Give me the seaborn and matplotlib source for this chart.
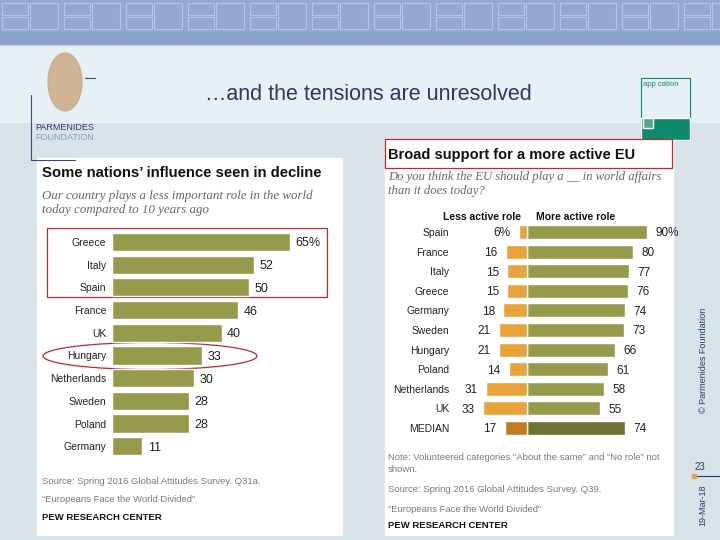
import matplotlib
matplotlib.use("Agg")
import matplotlib.pyplot as plt
import seaborn as sns
import pandas as pd
from matplotlib.patches import Rectangle, Ellipse

sns.set_theme(style="white")
plt.rcParams['font.family'] = ['Liberation Sans', 'DejaVu Sans']

# ---- data ----
left_countries = ["Greece", "Italy", "Spain", "France", "UK", "Hungary",
                  "Netherlands", "Sweden", "Poland", "Germany"]
left_values = [65, 52, 50, 46, 40, 33, 30, 28, 28, 11]
left_labels = ["65%", "52", "50", "46", "40", "33", "30", "28", "28", "11"]

right_countries = ["Spain", "France", "Italy", "Greece", "Germany", "Sweden",
                   "Hungary", "Poland", "Netherlands", "UK", "MEDIAN"]
less_active = [6, 16, 15, 15, 18, 21, 21, 14, 31, 33, 17]
more_active = [90, 80, 77, 76, 74, 73, 66, 61, 58, 55, 74]
less_labels = ["6%", "16", "15", "15", "18", "21", "21", "14", "31", "33", "17"]
more_labels = ["90%", "80", "77", "76", "74", "73", "66", "61", "58", "55", "74"]

OLIVE = "#959B4B"
OLIVE_D = "#6E7232"
ORANGE = "#E9A33B"
ORANGE_D = "#C47B1F"
GRAY = "#7a7a7a"

W, H = 720, 540
fig = plt.figure(figsize=(7.2, 5.4), dpi=100)

# background axes in pixel coords
bg = fig.add_axes([0, 0, 1, 1])
bg.set_xlim(0, W)
bg.set_ylim(H, 0)
bg.axis("off")
bg.add_patch(Rectangle((0, 0), W, H, color="#D7E2E9", zorder=0))
bg.add_patch(Rectangle((0, 42), W, 80, color="#E7EFF7", zorder=0))
bg.add_patch(Rectangle((0, 0), W, 44, color="#93A9D1", zorder=0))
bg.add_patch(Rectangle((0, 32), W, 12, color="#8AA1CB", zorder=1))
# decorative pattern
for i in range(0, W, 62):
    bg.add_patch(Rectangle((i + 2, 3), 26, 12, fill=False, ec="#B6C6E3", lw=0.8, zorder=1))
    bg.add_patch(Rectangle((i + 30, 3), 28, 26, fill=False, ec="#B6C6E3", lw=0.8, zorder=1))
    bg.add_patch(Rectangle((i + 2, 17), 26, 12, fill=False, ec="#B6C6E3", lw=0.8, zorder=1))

# logo-ish elements
bg.add_patch(Ellipse((65, 82), 34, 58, color="#C9A77E", zorder=1, alpha=0.8))
bg.plot([31, 31], [95, 160], color="#3B4A7A", lw=0.8)
bg.plot([31, 75], [160, 160], color="#3B4A7A", lw=0.8)
bg.plot([85, 95], [78, 78], color="#3B4A7A", lw=0.8)
bg.text(35, 128, "PARMENIDES", fontsize=6.5, color="#2B3A6A", va="center")
bg.text(35, 137, "FOUNDATION", fontsize=6.5, color="#8C9BC4", va="center")

bg.text(368, 95, "\u2026and the tensions are unresolved", fontsize=15.5,
        color="#2E3A5A", ha="center", va="center")

# app box top right
bg.add_patch(Rectangle((641, 78), 49, 62, fc="#E7EFF7", ec="#0E8A6E", lw=0.8, zorder=2))
bg.add_patch(Rectangle((641, 118), 49, 22, fc="#0E8A6E", zorder=3))
bg.add_patch(Rectangle((643, 118), 10, 10, fc="#4FA58A", zorder=4))
bg.text(643, 85, "app cation", fontsize=5.5, color="#0E8A6E", va="center")

# side texts
bg.text(703, 360, "\u00a9 Parmenides Foundation", rotation=90, fontsize=6.5,
        color="#2B3A6A", ha="center", va="center")
bg.text(700, 467, "23", fontsize=7, color="#2B3A6A", ha="center", va="center")
bg.plot([693, 720], [476, 476], color="#2B3A6A", lw=0.8)
bg.plot([694], [476], marker="s", color="#E9A33B", ms=3)
bg.text(703, 505, "19-Mar-18", rotation=90, fontsize=6.5,
        color="#2B3A6A", ha="center", va="center")

# white panels
bg.add_patch(Rectangle((37, 158), 305, 377, color="white", zorder=1))
bg.add_patch(Rectangle((385, 140), 288, 395, color="white", zorder=1))

# left panel texts
bg.text(42, 173, "Some nations\u2019 influence seen in decline", fontsize=10.7,
        fontweight="bold", color="#111111", va="center", zorder=3)
bg.text(42, 196, "Our country plays a less important role in the world", fontsize=9.3,
        fontstyle="italic", family="Liberation Serif", color="#666666", va="center", zorder=3)
bg.text(42, 210, "today compared to 10 years ago", fontsize=9.3,
        fontstyle="italic", family="Liberation Serif", color="#666666", va="center", zorder=3)
bg.text(42, 482, "Source: Spring 2016 Global Attitudes Survey. Q31a.", fontsize=6.8,
        color=GRAY, va="center", zorder=3)
bg.text(42, 500, "\u201cEuropeans Face the World Divided\u201d", fontsize=6.8,
        color=GRAY, va="center", zorder=3)
bg.text(42, 518, "PEW RESEARCH CENTER", fontsize=6.8, fontweight="bold",
        color="#111111", va="center", zorder=3)
bg.add_patch(Rectangle((47, 228), 280, 69, fill=False, ec="#C0282E", lw=0.9, zorder=3))
bg.add_patch(Ellipse((150, 356), 214, 27, fill=False, ec="#C0282E", lw=0.9, zorder=3))

# right panel texts
bg.text(388, 155, "Broad support for a more active EU", fontsize=10.5,
        fontweight="bold", color="#111111", va="center", zorder=3)
bg.add_patch(Rectangle((385, 139), 287, 29, fill=False, ec="#C0282E", lw=0.9, zorder=3))
bg.text(388, 177, "Do you think the EU should play a __ in world affairs", fontsize=9.1,
        fontstyle="italic", family="Liberation Serif", color="#666666", va="center", zorder=3)
bg.text(388, 191, "than it does today?", fontsize=9.1,
        fontstyle="italic", family="Liberation Serif", color="#666666", va="center", zorder=3)
bg.text(521, 217, "Less active role", fontsize=7.5, fontweight="bold",
        color="#111111", ha="right", va="center", zorder=3)
bg.text(536, 217, "More active role", fontsize=7.5, fontweight="bold",
        color="#111111", ha="left", va="center", zorder=3)
bg.text(388, 458, "Note: Volunteered categories \u201cAbout the same\u201d and \u201cNo role\u201d not",
        fontsize=6.8, color=GRAY, va="center", zorder=3)
bg.text(388, 470, "shown.", fontsize=6.8, color=GRAY, va="center", zorder=3)
bg.text(388, 489, "Source: Spring 2016 Global Attitudes Survey. Q39.", fontsize=6.8,
        color=GRAY, va="center", zorder=3)
bg.text(388, 510, "\u201cEuropeans Face the World Divided\u201d", fontsize=6.8,
        color=GRAY, va="center", zorder=3)
bg.text(388, 526, "PEW RESEARCH CENTER", fontsize=6.8, fontweight="bold",
        color="#111111", va="center", zorder=3)

# ---- left chart ----
axl = fig.add_axes([112 / W, 1 - 457.6 / H, 219 / W, 227 / H])
axl.patch.set_alpha(0)
dfl = pd.DataFrame({"country": left_countries, "value": left_values})
sns.barplot(data=dfl, x="value", y="country", color=OLIVE, orient="h",
            width=0.8, saturation=1, ax=axl)
axl.set_xlim(0, 80)
axl.set_ylim(9.5, -0.5)
for i, v in enumerate(left_values):
    axl.annotate(left_labels[i], (v, i), xytext=(4, 0), textcoords="offset points",
                 ha="left", va="center_baseline", fontsize=9, color="#222222")
axl.set_xlabel("")
axl.set_ylabel("")
axl.set_xticks([])
axl.tick_params(axis="y", length=0, pad=4, labelsize=7.5, labelcolor="#222222")
sns.despine(ax=axl, left=True, bottom=True)

# ---- right chart ----
axr = fig.add_axes([474 / W, 1 - 437.8 / H, 186 / W, 215.6 / H])
axr.patch.set_alpha(0)
dfr = pd.DataFrame({"country": right_countries,
                    "less": [-v for v in less_active],
                    "more": more_active})
more_pal = [OLIVE] * (len(right_countries) - 1) + [OLIVE_D]
less_pal = [ORANGE] * (len(right_countries) - 1) + [ORANGE_D]
sns.barplot(data=dfr, x="more", y="country", hue="country", palette=more_pal,
            orient="h", width=0.72, saturation=1, legend=False, ax=axr)
sns.barplot(data=dfr, x="less", y="country", hue="country", palette=less_pal,
            orient="h", width=0.72, saturation=1, legend=False, ax=axr)
axr.set_xlim(-40, 100)
axr.set_ylim(10.5, -0.5)
for i, (l, m) in enumerate(zip(less_active, more_active)):
    axr.annotate(less_labels[i], (-l, i), xytext=(-6, 0), textcoords="offset points",
                 ha="right", va="center_baseline", fontsize=8.5, color="#222222")
    axr.annotate(more_labels[i], (m, i), xytext=(6, 0), textcoords="offset points",
                 ha="left", va="center_baseline", fontsize=8.5, color="#222222")
axr.set_xlabel("")
axr.set_ylabel("")
axr.set_xticks([])
axr.tick_params(axis="y", length=0, pad=18, labelsize=7.5, labelcolor="#222222")
sns.despine(ax=axr, left=True, bottom=True)

fig.savefig("out.png", dpi=100)
